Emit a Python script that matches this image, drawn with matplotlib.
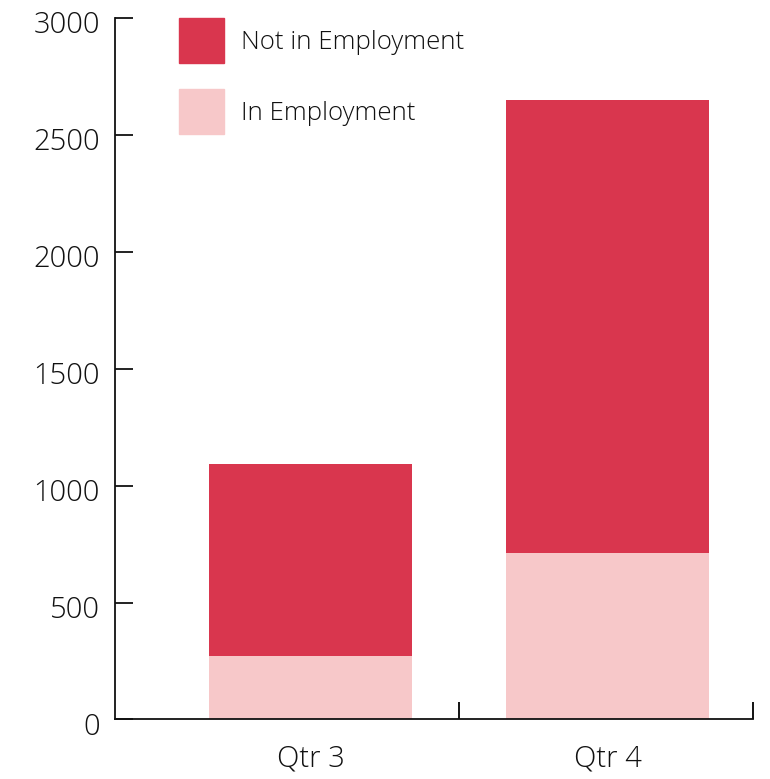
import matplotlib.pyplot as plt
from matplotlib.patches import Patch
from matplotlib.transforms import ScaledTranslation

# quarterly counts, stacked: in employment at the bottom, not in employment on top
quarters = ["Qtr 3", "Qtr 4"]
in_employment = [270, 710]
not_in_employment = [820, 1940]

RED = "#d9364e"
PINK = "#f7c8c9"
TEXT = "#111111"

plt.rcParams["font.family"] = ["Open Sans", "DejaVu Sans"]
plt.rcParams["font.weight"] = "light"

fig = plt.figure(figsize=(7.7, 7.79), dpi=100)
ax = fig.add_axes([0.1494, 0.0764, 0.8286, 0.9009])

x = range(len(quarters))
ax.bar(x, in_employment, width=0.683, color=PINK, zorder=2)
ax.bar(x, not_in_employment, width=0.683, bottom=in_employment, color=RED, zorder=2)

ax.set_xlim(-0.658, 1.49)
ax.set_ylim(0, 3000)

# y axis: inward ticks every 500
ax.set_yticks(range(0, 3001, 500))
ax.tick_params(axis="y", direction="in", length=13, width=1.3, pad=11,
               labelsize=21, colors=TEXT)
# nudge the numbers a little below their ticks
shift = ScaledTranslation(0, -4 / 100, fig.dpi_scale_trans)
for lbl in ax.get_yticklabels():
    lbl.set_transform(lbl.get_transform() + shift)

# x axis: category labels with no ticks, boundary ticks pointing up
ax.set_xticks(list(x))
ax.set_xticklabels(quarters)
ax.tick_params(axis="x", which="major", length=0, pad=18, labelsize=21, colors=TEXT)
ax.set_xticks([0.5, 1.49], minor=True)
ax.tick_params(axis="x", which="minor", direction="in", length=12.5, width=1.3)

for side in ["top", "right"]:
    ax.spines[side].set_visible(False)
for side in ["left", "bottom"]:
    ax.spines[side].set_linewidth(1.3)
    ax.spines[side].set_color(TEXT)

handles = [Patch(color=RED, label="Not in Employment"),
           Patch(color=PINK, label="In Employment")]
fig.legend(handles=handles, loc="upper left",
           bbox_to_anchor=(179 / 770, 1 - 18 / 779), frameon=False,
           fontsize=18.6, handlelength=1.74, handleheight=2.31,
           handletextpad=0.66, labelspacing=1.0, borderpad=0, borderaxespad=0,
           labelcolor=TEXT)

fig.savefig("out.png", dpi=100)
